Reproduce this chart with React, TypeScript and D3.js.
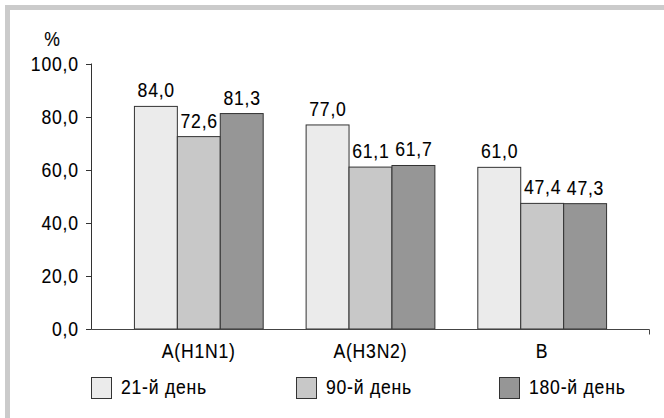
import React from "react";
import * as d3 from "d3";

const categories = ["A(H1N1)", "A(H3N2)", "B"];
const seriesNames = ["21-й день", "90-й день", "180-й день"];
const day21 = [84.0, 77.0, 61.0];
const day90 = [72.6, 61.1, 47.4];
const day180 = [81.3, 61.7, 47.3];
const yTicks = [0, 20, 40, 60, 80, 100];
const colors = ["#ebebeb", "#c8c8c8", "#969696"];

const W = 664;
const H = 418;
const FONT = "'Liberation Sans', Arial, sans-serif";
const FS = 21;
const SX = 0.84;
const LS = 0.9;

function T({ x, y, anchor = "start", dy = 0, children }: { x: number; y: number; anchor?: string; dy?: number; children: React.ReactNode }) {
  const shift = anchor === "middle" ? LS * SX / 2 : anchor === "end" ? LS * SX : 0;
  return (
    <text transform={`translate(${x + shift},${y + dy}) scale(${SX},1)`} textAnchor={anchor}
      fontFamily={FONT} fontSize={FS} letterSpacing={LS} fill="#000" stroke="#000" strokeWidth={0.12}>{children}</text>
  );
}

export default function App() {
  const series = [day21, day90, day180];
  const x0 = d3.scaleBand<string>().domain(categories).range([91, 649]).paddingInner(0.25).paddingOuter(0.25);
  const x1 = d3.scaleBand<number>().domain([0, 1, 2]).range([0, x0.bandwidth()]);
  const y = d3.scaleLinear().domain([0, 100]).range([328.5, 63.5]);
  const fmt = (v: number) => v.toFixed(1).replace(".", ",");
  const legendX = [91, 296, 499];
  const y0 = Math.round(y(0)) + 0.5;

  return (
    <svg width={W} height={H} style={{ position: "absolute", left: 0, top: 0, background: "#fff" }}>
      {/* frame */}
      <rect x={5} y={5} width={W - 5} height={5} fill="#cbcbcb" />
      <rect x={5} y={5} width={5} height={H - 5} fill="#cbcbcb" />

      {/* bars */}
      {categories.map((c, i) =>
        series.map((s, j) => {
          const bx = (x0(c) as number) + (x1(j) as number);
          const bw = x1.bandwidth();
          return (
            <g key={`${c}-${j}`}>
              <rect x={bx + 0.5} y={y(s[i]) + 0.5} width={bw} height={y(0) - y(s[i])}
                fill={colors[j]} stroke="#333" strokeWidth={1} />
              <T x={bx + bw / 2 + 0.5} y={y(s[i]) - 8.5} anchor="middle">{fmt(s[i])}</T>
            </g>
          );
        })
      )}

      {/* y axis */}
      <line x1={91.5} x2={91.5} y1={y(100)} y2={y0} stroke="#333" />
      {yTicks.map((t) => (
        <g key={t}>
          <line x1={86} x2={91.5} y1={Math.round(y(t)) + 0.5} y2={Math.round(y(t)) + 0.5} stroke="#333" />
          <T x={78} y={y(t)} dy={7.4} anchor="end">{fmt(t)}</T>
        </g>
      ))}
      <T x={52} y={46} anchor="middle">%</T>

      {/* x axis */}
      <line x1={91.5} x2={649.5} y1={y0} y2={y0} stroke="#444" />
      <line x1={649.5} x2={649.5} y1={y0} y2={y0 + 5} stroke="#444" />
      {categories.map((c) => (
        <T key={c} x={(x0(c) as number) + x0.bandwidth() / 2} y={358} anchor="middle">{c}</T>
      ))}

      {/* legend */}
      {seriesNames.map((n, j) => (
        <g key={n}>
          <rect x={legendX[j] + 0.5} y={377.5} width={20} height={21} fill={colors[j]} stroke="#333" />
          <T x={legendX[j] + 30} y={394}>{n}</T>
        </g>
      ))}
    </svg>
  );
}
